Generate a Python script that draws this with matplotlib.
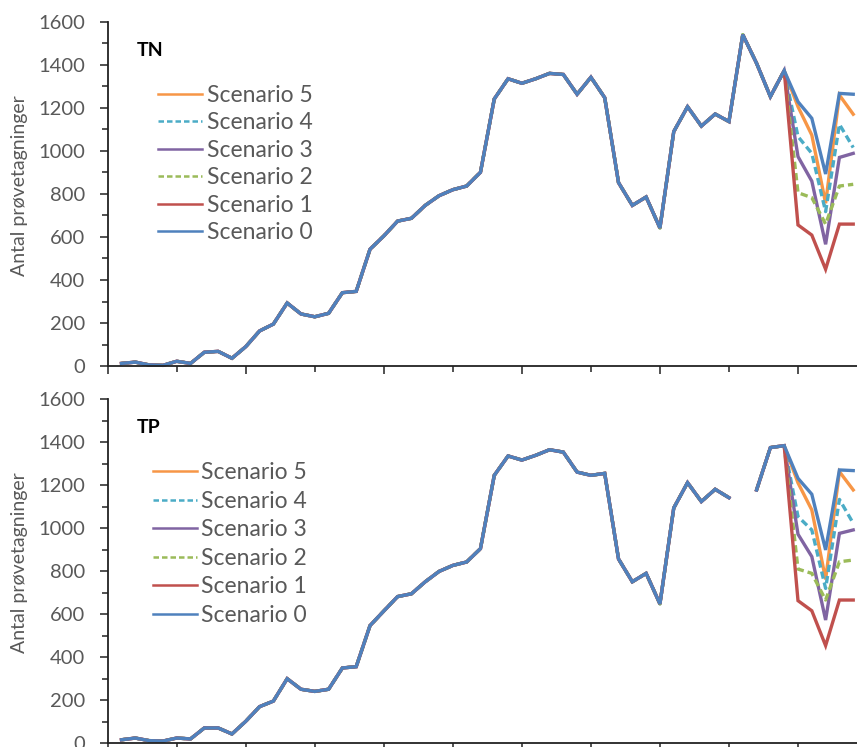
import numpy as np
import matplotlib
matplotlib.use("Agg")
import matplotlib.pyplot as plt
from matplotlib.ticker import MultipleLocator, NullFormatter

plt.rcParams['font.family'] = ['Lato', 'DejaVu Sans']

# sampling rounds 1..54, projections start after round 49
rounds = np.arange(1, 55)

tn_hist = [12, 18, 5, 3, 22, 12, 64, 68, 36, 90,
           163, 195, 293, 242, 229, 245, 341, 347, 543, 605,
           674, 687, 747, 792, 820, 837, 901, 1242, 1336, 1315,
           1336, 1361, 1356, 1264, 1343, 1248, 853, 747, 786, 642,
           1090, 1206, 1116, 1172, 1137, 1541, 1408, 1253, 1374]
tn_s0 = [1229, 1152, 893, 1268, 1264]
tn_s1 = [656, 609, 450, 660, 660]
tn_s2 = [806, 783, 660, 837, 845]
tn_s3 = [974, 860, 566, 970, 989]
tn_s4 = [1067, 989, 718, 1124, 1016]
tn_s5 = [1206, 1074, 757, 1260, 1171]

tp_hist = [15, 23, 11, 9, 23, 19, 70, 70, 42, 101,
           169, 195, 299, 250, 240, 250, 349, 355, 546, 614,
           681, 694, 750, 798, 826, 842, 904, 1245, 1335, 1316,
           1338, 1364, 1353, 1260, 1245, 1254, 856, 750, 789, 647,
           1093, 1211, 1123, 1180, 1141, np.nan, 1177, 1374, 1383]
tp_s0 = [1231, 1157, 898, 1270, 1267]
tp_s1 = [662, 615, 453, 665, 665]
tp_s2 = [809, 789, 665, 843, 851]
tp_s3 = [971, 867, 572, 975, 991]
tp_s4 = [1053, 991, 719, 1133, 1022]
tp_s5 = [1210, 1084, 761, 1262, 1177]

labels = ["Scenario 5", "Scenario 4", "Scenario 3", "Scenario 2", "Scenario 1", "Scenario 0"]
colors = ["#F79646", "#4BACC6", "#8064A2", "#9BBB59", "#C0504D", "#4F81BD"]
styles = ["-", (0, (2.2, 1.2)), "-", (0, (2.2, 1.2)), "-", "-"]

W, H = 857, 747
fig = plt.figure(figsize=(W / 100, H / 100), dpi=100)

px = 13.806  # width of one round in pixels
ax_w = 55 * px / W
ax_h = 344 / H
ax_top = fig.add_axes([107.7 / W, (H - 366) / H, ax_w, ax_h])
ax_bot = fig.add_axes([107.7 / W, (H - 743) / H, ax_w, ax_h])


def draw_panel(ax, hist, scen, name, name_y, leg_x, leg_y, leg_space, text_pad):
    for lab, proj, col, ls in zip(labels, scen, colors, styles):
        vals = np.array(list(hist) + list(proj), dtype=float)
        ax.plot(rounds, vals, color=col, linestyle=ls, lw=2.4, label=lab,
                solid_joinstyle='miter', clip_on=False)
    ax.set_xlim(0, 55)
    ax.set_ylim(0, 1600)
    ax.yaxis.set_major_locator(MultipleLocator(200))
    ax.yaxis.set_minor_locator(MultipleLocator(100))
    ax.xaxis.set_major_locator(MultipleLocator(10))
    ax.xaxis.set_minor_locator(MultipleLocator(5))
    ax.xaxis.set_major_formatter(NullFormatter())
    for side in ("top", "right"):
        ax.spines[side].set_visible(False)
    for side in ("left", "bottom"):
        ax.spines[side].set_linewidth(1.3)
        ax.spines[side].set_color("#222222")
    ax.tick_params(axis='both', which='both', direction='out', width=1.1,
                   color="#222222")
    ax.tick_params(axis='both', which='major', length=5.5)
    ax.tick_params(axis='both', which='minor', length=4)
    ax.tick_params(axis='y', which='major', labelsize=14.5, labelcolor="#595959", pad=11)
    ax.set_ylabel("Antal prøvetagninger", fontsize=14, color="#595959")
    ax.yaxis.set_label_coords(-0.1046, 0.523)
    fig.text(137 / W, 1 - name_y / H, name, fontsize=14, fontweight='bold',
             color="black", va='baseline', ha='left')
    leg = ax.legend(loc='upper left', bbox_to_anchor=(leg_x / W, 1 - leg_y / H),
                    bbox_transform=fig.transFigure, frameon=False, fontsize=16.5,
                    borderpad=0, borderaxespad=0, handlelength=1.92,
                    handletextpad=text_pad, labelspacing=leg_space)
    for t in leg.get_texts():
        t.set_color("#595959")
    for ln in leg.get_lines():
        ln.set_linewidth(1.8)


draw_panel(ax_top, tn_hist, [tn_s5, tn_s4, tn_s3, tn_s2, tn_s1, tn_s0], "TN", 56,
           157.7, 85, 0.28, 0.23)
draw_panel(ax_bot, tp_hist, [tp_s5, tp_s4, tp_s3, tp_s2, tp_s1, tp_s0], "TP", 433,
           153.3, 462, 0.33, 0.15)

fig.savefig("out.png", dpi=100)
